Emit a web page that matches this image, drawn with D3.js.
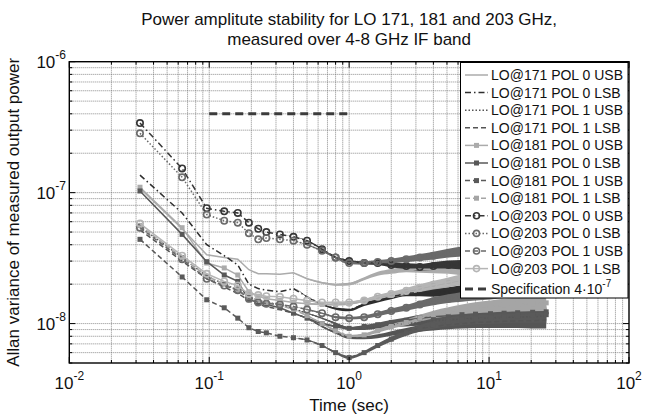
<!DOCTYPE html>
<html><head><meta charset="utf-8">
<script src="https://cdn.jsdelivr.net/npm/d3@7"></script>
<style>body{margin:0;background:#fff}svg{display:block;font-family:Arial,"Liberation Sans",Helvetica,sans-serif}</style>
</head><body><svg id="c" width="660" height="418"></svg>
<script>
// ---- data (values in units of 1e-8) ----
const unit = 1e-8;
const times = [0.032,0.064,0.096,0.128,0.16,0.192,0.224,0.256,0.32,0.4,0.5,0.64,0.8,1.0,1.28,1.6,2.0,2.56,3.2,4.0,5.12,6.4,8.0,10.24,12.8,16,20.48,25.6];
const seriesNames = ["LO@171 POL 0 USB","LO@171 POL 0 LSB","LO@171 POL 1 USB","LO@171 POL 1 LSB",
  "LO@181 POL 0 USB","LO@181 POL 0 LSB","LO@181 POL 1 USB","LO@181 POL 1 LSB",
  "LO@203 POL 0 USB","LO@203 POL 0 LSB","LO@203 POL 1 USB","LO@203 POL 1 LSB"];
const lo171p0usb = [10.8,5.3,3.35,3.2,3.1,2.58,2.4,2.4,2.38,2.44,2.2,2.05,1.98,2.0,2.2,2.4,2.5,2.6,2.6,2.6,2.6,2.55,2.5,2.5,2.45,2.4,2.4,2.4];
const lo171p0lsb = [13.6,7.0,4.0,3.3,2.8,2.0,1.85,1.8,1.75,1.85,1.6,1.4,1.3,1.27,1.4,1.5,1.6,1.7,1.72,1.72,1.75,1.8,1.8,1.8,1.8,null,null,null];
const lo171p1usb = [5.5,3.2,2.3,2.0,1.8,1.6,1.5,1.45,1.4,1.3,1.2,1.1,1.0,0.92,0.92,0.95,0.98,1.0,1.02,1.05,1.07,1.08,1.1,1.1,1.12,1.12,1.13,1.14];
const lo171p1lsb = [5.2,3.0,2.2,1.9,1.7,1.5,1.4,1.35,1.28,1.2,1.1,0.95,0.85,0.78,0.78,0.8,0.84,0.88,0.92,0.95,0.98,1.0,1.02,1.03,1.04,1.05,1.05,1.06];
const lo181p0usb = [11.0,5.4,2.9,2.66,2.35,1.75,1.62,1.55,1.5,1.45,1.42,1.4,1.4,1.42,1.5,1.58,1.65,1.75,1.85,1.95,2.05,2.15,2.25,2.35,2.45,2.55,2.6,2.65];
const lo181p0lsb = [10.3,4.8,2.97,2.35,2.1,1.52,1.45,1.4,1.32,1.2,1.1,1.0,0.95,0.92,0.95,0.98,1.02,1.06,1.1,1.13,1.15,1.17,1.18,1.19,1.2,1.21,1.22,1.23];
const lo181p1usb = [4.4,2.27,1.52,1.32,1.1,0.93,0.87,0.85,0.8,0.78,0.75,0.68,0.6,0.55,0.6,0.68,0.76,0.85,0.92,0.98,1.03,1.06,1.09,1.11,1.13,1.15,1.16,1.17];
const lo181p1lsb = [5.6,3.2,2.3,2.0,1.8,1.6,1.5,1.45,1.38,1.28,1.15,1.0,0.88,0.8,0.82,0.88,0.95,1.02,1.1,1.17,1.23,1.28,1.32,1.35,1.38,1.4,1.42,1.44];
const lo203p0usb = [34,15.3,7.6,7.2,7.0,5.9,5.3,5.0,4.8,4.6,4.3,3.7,3.2,3.0,2.9,2.9,2.8,2.75,2.7,2.75,2.8,2.8,2.8,2.85,2.9,2.9,2.9,2.95];
const lo203p0lsb = [28.4,13.1,6.8,6.1,5.9,4.9,4.4,4.5,4.4,4.3,4.0,3.6,3.2,2.9,2.9,2.95,3.0,3.1,3.2,3.3,3.45,3.55,3.7,3.8,3.9,4.0,4.1,4.2];
const lo203p1usb = [5.4,3.1,2.2,1.95,1.8,1.55,1.45,1.42,1.4,1.35,1.28,1.2,1.12,1.1,1.12,1.18,1.25,1.32,1.4,1.48,1.55,1.6,1.65,1.7,1.75,1.8,1.82,1.85];
const lo203p1lsb = [5.8,3.3,2.4,2.1,1.95,1.68,1.65,1.62,1.6,1.55,1.5,1.45,1.45,1.45,1.5,1.6,1.68,1.78,1.88,1.98,2.08,2.18,2.28,2.38,2.45,2.5,2.55,2.6];
const scatterHalf = [0,0,0,0,0,0,0,0,0,0,0.004,0.006,0.008,0.01,0.012,0.015,0.018,0.022,0.026,0.03,0.034,0.038,0.042,0.046,0.05,0.054,0.058,0.062];
const specTimes = [0.1, 1];
const specValue = 4e-7;
const xTickExp = [-2,-1,0,1,2];
const yTickExp = [-8,-7,-6];

// ---- styles ----
const DARK="#363636", MID="#6a6a6a", LIGHT="#ababab";
const styles = [
 {c:LIGHT, dash:null, m:null},
 {c:"#2e2e2e", dash:"6,3,1.5,3", m:null},
 {c:"#555", dash:"1.5,2", m:null},
 {c:"#555", dash:"5,3", m:null},
 {c:LIGHT, dash:null, m:"s"},
 {c:"#585858", dash:null, m:"s"},
 {c:"#5a5a5a", dash:"5,3", m:"s"},
 {c:"#a5a5a5", dash:"5,3", m:"s"},
 {c:DARK, dash:"6,3,1.5,3", m:"o"},
 {c:MID, dash:"1.5,2", m:"o"},
 {c:MID, dash:"5,3", m:"o"},
 {c:"#b5b5b5", dash:null, m:"o"}
];
const allSeries = [lo171p0usb,lo171p0lsb,lo171p1usb,lo171p1lsb,lo181p0usb,lo181p0lsb,lo181p1usb,lo181p1lsb,lo203p0usb,lo203p0lsb,lo203p1usb,lo203p1lsb];

const svg = d3.select("#c");
const L=69.3, R=629, Tp=61.7, B=363;
const x = d3.scaleLog().domain([0.01,100]).range([L,R]);
const y = d3.scaleLog().domain([5e-9,1e-6]).range([B,Tp]);

const xTicks=[], yTicks=[];
for(let e=-2;e<2;e++) for(let k=1;k<10;k++) xTicks.push(k*Math.pow(10,e));
xTicks.push(100);
for(let e=-9;e<-6;e++) for(let k=1;k<10;k++){const v=k*Math.pow(10,e); if(v>=5e-9*0.999 && v<=1e-6) yTicks.push(v);}
yTicks.push(1e-6);

// grid
const grid = svg.append("g");
const gridStyle = s=>s.attr("stroke","#6e6e6e").attr("stroke-width",0.8).attr("stroke-dasharray","1,1");
gridStyle(grid.selectAll(null).data(xTicks.filter(v=>v>0.0101&&v<99)).enter().append("line")
  .attr("x1",d=>x(d)).attr("x2",d=>x(d)).attr("y1",Tp).attr("y2",B));
gridStyle(grid.selectAll(null).data(yTicks.filter(v=>v>5.01e-9&&v<0.99e-6)).enter().append("line")
  .attr("x1",L).attr("x2",R).attr("y1",d=>y(d)).attr("y2",d=>y(d)));

svg.append("clipPath").attr("id","pc").append("rect").attr("x",L).attr("y",Tp).attr("width",R-L).attr("height",B-Tp);
const plot = svg.append("g").attr("clip-path","url(#pc)");

function pts(arr){ return times.map((t,i)=>({t, v: arr[i]==null?null:arr[i]*unit, h: scatterHalf[i]})).filter(d=>d.v!=null); }

allSeries.forEach((arr,si)=>{
  const st=styles[si]; const p=pts(arr);
  const area=d3.area().x(d=>x(d.t)).y0(d=>y(d.v*Math.pow(10,-d.h))).y1(d=>y(d.v*Math.pow(10,d.h))).curve(d3.curveMonotoneX);
  plot.append("path").attr("d",area(p)).attr("fill",st.c);
});
allSeries.forEach((arr,si)=>{
  const st=styles[si]; const p=pts(arr);
  const line=d3.line().x(d=>x(d.t)).y(d=>y(d.v));
  plot.append("path").attr("d",line(p)).attr("fill","none").attr("stroke",st.c).attr("stroke-width",1.5)
    .attr("stroke-dasharray",st.dash);
  if(st.m==="s"){
    plot.selectAll(null).data(p).enter().append("rect").attr("x",d=>x(d.t)-2.5).attr("y",d=>y(d.v)-2.5)
      .attr("width",5).attr("height",5).attr("fill",st.c);
  } else if(st.m==="o"){
    plot.selectAll(null).data(p).enter().append("circle").attr("cx",d=>x(d.t)).attr("cy",d=>y(d.v)).attr("r",3.2)
      .attr("fill","none").attr("stroke",st.c).attr("stroke-width",1.6);
  }
});
plot.append("line").attr("x1",x(specTimes[0])).attr("x2",x(specTimes[1])).attr("y1",y(specValue)).attr("y2",y(specValue))
  .attr("stroke","#3c3c3c").attr("stroke-width",3).attr("stroke-dasharray","8,5");

// axes box + ticks
const ax = svg.append("g");
const xMaj = xTickExp.map(e=>Math.pow(10,e));
xTicks.forEach(v=>{
  const isM = xMaj.some(m=>Math.abs(m/v-1)<1e-9); const len=isM?6:3; const xx=x(v);
  ax.append("line").attr("x1",xx).attr("x2",xx).attr("y1",B).attr("y2",B-len).attr("stroke","#000");
  ax.append("line").attr("x1",xx).attr("x2",xx).attr("y1",Tp).attr("y2",Tp+len).attr("stroke","#000");
});
const yMaj = yTickExp.map(e=>Math.pow(10,e));
yTicks.forEach(v=>{
  const isM = yMaj.some(m=>Math.abs(m/v-1)<1e-9); const len=isM?6:3; const yy=y(v);
  ax.append("line").attr("x1",L).attr("x2",L+len).attr("y1",yy).attr("y2",yy).attr("stroke","#000");
  ax.append("line").attr("x1",R).attr("x2",R-len).attr("y1",yy).attr("y2",yy).attr("stroke","#000");
});
ax.append("rect").attr("x",L).attr("y",Tp).attr("width",R-L).attr("height",B-Tp).attr("fill","none").attr("stroke","#000").attr("stroke-width",1.4);

xTickExp.forEach(e=>{
  const t=svg.append("text").attr("x",x(Math.pow(10,e))).attr("y",389).attr("text-anchor","middle").attr("font-size",17).attr("fill","#111");
  t.append("tspan").text("10");
  t.append("tspan").attr("dy",-9).attr("font-size",12).text(e);
});
yTickExp.forEach(e=>{
  const t=svg.append("text").attr("x",66).attr("y",y(Math.pow(10,e))+6).attr("text-anchor","end").attr("font-size",17).attr("fill","#111");
  t.append("tspan").text("10");
  t.append("tspan").attr("dy",-9).attr("font-size",12).text(e);
});

svg.append("text").attr("x",(L+R)/2).attr("y",25).attr("text-anchor","middle").attr("font-size",17).attr("fill","#111")
  .text("Power amplitute stability for LO 171, 181 and 203 GHz,");
svg.append("text").attr("x",(L+R)/2).attr("y",45).attr("text-anchor","middle").attr("font-size",17).attr("fill","#111")
  .text("measured over 4-8 GHz IF band");
svg.append("text").attr("x",(L+R)/2).attr("y",411).attr("text-anchor","middle").attr("font-size",17).attr("fill","#111").text("Time (sec)");
svg.append("text").attr("transform",`translate(19,${(Tp+B)/2}) rotate(-90)`).attr("text-anchor","middle").attr("font-size",17).attr("fill","#111")
  .text("Allan variance of measured output power");

const lg = svg.append("g");
lg.append("rect").attr("x",460.5).attr("y",62.5).attr("width",167.5).attr("height",235.5).attr("fill","#fff").attr("stroke","#000").attr("stroke-width",1);
seriesNames.forEach((nm,i)=>{
  const yy = 75 + i*17.6; const st=styles[i];
  lg.append("line").attr("x1",465).attr("x2",488).attr("y1",yy).attr("y2",yy).attr("stroke",st.c).attr("stroke-width",1.5).attr("stroke-dasharray",st.dash);
  if(st.m==="s") lg.append("rect").attr("x",474).attr("y",yy-2.5).attr("width",5).attr("height",5).attr("fill",st.c);
  if(st.m==="o") lg.append("circle").attr("cx",476.5).attr("cy",yy).attr("r",3).attr("fill","none").attr("stroke",st.c).attr("stroke-width",1.6);
  lg.append("text").attr("x",491).attr("y",yy+5).attr("font-size",14).attr("fill","#111").text(nm);
});
{
  const yy=289;
  lg.append("line").attr("x1",465).attr("x2",488).attr("y1",yy).attr("y2",yy).attr("stroke","#3c3c3c").attr("stroke-width",3).attr("stroke-dasharray","8,5");
  const t=lg.append("text").attr("x",491).attr("y",yy+5).attr("font-size",14).attr("fill","#111");
  t.append("tspan").text("Specification 4\u00b710");
  t.append("tspan").attr("dy",-7).attr("font-size",10).text("-7");
}
</script></body></html>
